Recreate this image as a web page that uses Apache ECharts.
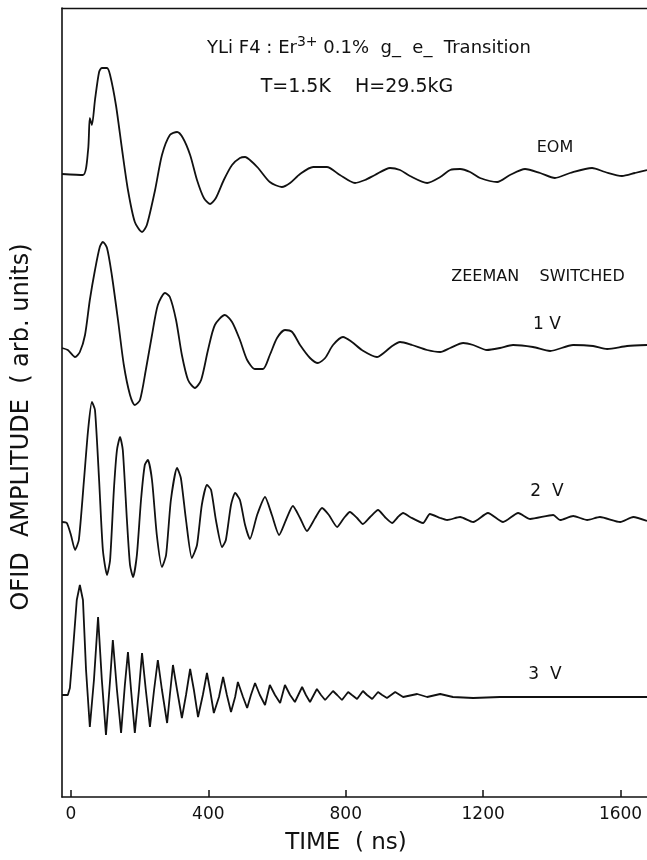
<!DOCTYPE html>
<html>
<head>
<meta charset="utf-8">
<script src="https://cdn.jsdelivr.net/npm/echarts@6/dist/echarts.min.js"></script>
<style>
  html, body { margin: 0; padding: 0; background: #fff; }
  #chart { width: 647px; height: 860px; }
</style>
</head>
<body>
<div id="chart"></div>
<script>
// time (ns) and amplitude (arb. units, relative to each trace's baseline)
const eomTime = [-26, 35, 50, 55, 61, 70, 82, 90, 105, 114, 131, 149, 166, 186, 207, 221, 245, 265, 288, 309, 326, 347, 367, 387, 405, 422, 445, 469, 492, 507, 521, 545, 579, 614, 638, 667, 705, 745, 783, 827, 856, 885, 929, 958, 987, 1037, 1075, 1104, 1133, 1162, 1191, 1241, 1278, 1322, 1366, 1409, 1453, 1517, 1555, 1604, 1642, 1677]
const eomAmp = [0, -1, 24, 56, 49, 74, 102, 106, 106, 99, 69, 24, -16, -48, -58, -51, -16, 19, 39, 42, 36, 19, -6, -24, -30, -24, -6, 9, 16, 17, 14, 6, -8, -13, -9, 0, 7, 7, -1, -9, -6, -1, 6, 4, -2, -9, -3, 4, 5, 2, -4, -8, -1, 5, 1, -4, 1, 6, 2, -2, 1, 4]

const v1Time = [-26, -9, 12, 26, 41, 55, 70, 84, 93, 105, 119, 137, 154, 172, 186, 201, 218, 236, 253, 274, 288, 306, 323, 341, 361, 379, 399, 419, 448, 469, 492, 513, 536, 559, 579, 600, 623, 644, 667, 696, 719, 740, 763, 792, 818, 847, 891, 914, 935, 958, 993, 1037, 1075, 1104, 1142, 1171, 1211, 1249, 1287, 1345, 1395, 1462, 1520, 1561, 1619, 1677]
const v1Amp = [0, -2, -9, -4, 13, 48, 78, 101, 106, 100, 73, 28, -17, -47, -57, -52, -22, 13, 43, 55, 51, 28, -7, -32, -40, -32, -2, 23, 33, 26, 8, -12, -21, -21, -7, 10, 18, 16, 3, -10, -15, -10, 3, 11, 6, -2, -9, -4, 2, 6, 3, -2, -4, 0, 5, 3, -2, 0, 3, 1, -3, 3, 2, -1, 2, 3]

const v2Time = [-26, -12, 0, 12, 23, 38, 50, 61, 70, 82, 93, 105, 114, 125, 134, 143, 151, 163, 172, 181, 192, 204, 215, 224, 236, 250, 265, 277, 291, 309, 320, 335, 352, 367, 381, 396, 408, 422, 440, 451, 466, 478, 492, 507, 521, 542, 565, 585, 606, 626, 646, 667, 687, 711, 731, 751, 775, 795, 812, 833, 850, 871, 894, 914, 935, 952, 967, 987, 1025, 1045, 1075, 1095, 1133, 1171, 1214, 1258, 1302, 1337, 1404, 1424, 1462, 1503, 1540, 1599, 1637, 1677]
const v2Amp = [0, -1, -13, -28, -18, 42, 92, 120, 112, 42, -28, -53, -38, 32, 72, 85, 72, 2, -43, -55, -33, 22, 57, 62, 42, -13, -45, -33, 22, 54, 44, 2, -36, -23, 17, 37, 32, 2, -25, -18, 17, 29, 22, -3, -17, 7, 25, 7, -13, 2, 16, 4, -9, 4, 14, 7, -5, 4, 10, 4, -2, 5, 12, 5, -1, 5, 9, 5, -1, 8, 4, 2, 5, 0, 9, 0, 9, 3, 7, 2, 6, 2, 5, 0, 5, 1]

const v3Time = [-26, -9, -3, 6, 17, 26, 35, 44, 55, 67, 79, 90, 102, 114, 122, 134, 146, 157, 166, 175, 186, 198, 207, 218, 230, 242, 253, 265, 280, 288, 297, 309, 323, 335, 347, 358, 370, 384, 396, 405, 416, 431, 443, 454, 466, 478, 486, 501, 513, 524, 536, 550, 565, 579, 594, 609, 623, 638, 652, 673, 684, 696, 716, 728, 740, 763, 775, 789, 807, 818, 833, 850, 862, 877, 894, 906, 920, 944, 967, 1008, 1037, 1075, 1112, 1171, 1249, 1307, 1462, 1540, 1677]
const v3Amp = [0, 0, 7, 45, 95, 110, 95, 25, -32, 15, 78, 15, -40, 15, 55, 5, -38, 10, 43, 5, -38, 5, 42, 5, -32, 5, 35, 5, -28, 0, 30, 5, -23, 0, 26, 5, -22, 0, 22, 5, -18, -2, 18, 0, -17, -2, 13, -2, -13, 0, 12, 0, -10, 10, 0, -8, 10, 0, -7, 8, 0, -7, 6, 0, -5, 4, 0, -5, 3, 0, -4, 4, 0, -4, 3, 0, -3, 3, -2, 1, -2, 1, -2, -3, -2, -2, -2, -2, -2]

const traceNames = ['EOM', '1 V', '2 V', '3 V']
const traceOffsets = [623, 449, 275, 102]
const tickValues = [0, 400, 800, 1200, 1600]

const traces = [[eomTime, eomAmp], [v1Time, v1Amp], [v2Time, v2Amp], [v3Time, v3Amp]]
const smoothing = [0.25, 0.25, 0.2, 0]
const font = 'DejaVu Sans'
const ink = '#111'

let chart = echarts.init(document.getElementById('chart'))

const series = traces.map((tr, i) => ({
  name: traceNames[i],
  type: 'line',
  showSymbol: false,
  smooth: smoothing[i],
  lineStyle: { color: ink, width: 1.8 },
  data: tr[0].map((t, k) => [t, traceOffsets[i] + tr[1][k]])
}))

const txt = (text, x, y, size, rot) => ({
  type: 'text', x, y, rotation: rot || 0,
  style: { text, fill: ink, font: size + 'px "DejaVu Sans"', align: 'center', verticalAlign: 'middle' }
})

chart.setOption({
  backgroundColor: '#fff',
  animation: false,
  grid: { left: 62, right: 0, top: 8, bottom: 63 },
  xAxis: [{
    type: 'value',
    min: -26,
    max: 1677,
    axisLine: { show: true, lineStyle: { color: ink, width: 1.6 } },
    axisTick: { show: true, inside: true, length: 7, customValues: tickValues, lineStyle: { color: ink, width: 1.5 } },
    axisLabel: { customValues: tickValues, formatter: v => String(v), color: ink, fontFamily: font, fontSize: 17, margin: 9 },
    splitLine: { show: false }
  }, {
    type: 'value',
    position: 'top',
    min: -26,
    max: 1677,
    axisLine: { show: true, onZero: false, lineStyle: { color: ink, width: 1.4 } },
    axisTick: { show: false },
    axisLabel: { show: false },
    splitLine: { show: false }
  }],
  yAxis: {
    type: 'value',
    min: 0,
    max: 789,
    axisLine: { show: true, onZero: false, lineStyle: { color: ink, width: 1.6 } },
    axisTick: { show: false },
    axisLabel: { show: false },
    splitLine: { show: false }
  },
  title: [{
    text: 'YLi F4 : Er{sup|3+} 0.1%  g_  e_  Transition',
    left: 364,
    top: 30,
    textAlign: 'center',
    textStyle: {
      color: ink, fontFamily: font, fontSize: 18, fontWeight: 'normal',
      rich: { sup: { fontSize: 14, fontFamily: font, color: ink, verticalAlign: 'top', padding: [0, 0, 12, 0] } }
    }
  }, {
    text: 'T=1.5K    H=29.5kG',
    left: 352,
    top: 73,
    textAlign: 'center',
    textStyle: { color: ink, fontFamily: font, fontSize: 19, fontWeight: 'normal' }
  }],
  graphic: [
    txt('OFID  AMPLITUDE  ( arb. units)', 22, 427, 24, Math.PI / 2),
    txt('TIME  ( ns)', 346, 843, 23),
    txt('EOM', 555, 148, 16),
    txt('ZEEMAN    SWITCHED', 538, 277, 16),
    txt('1 V', 547, 325, 17),
    txt('2  V', 547, 492, 17),
    txt('3  V', 545, 675, 17)
  ],
  series
})
</script>
</body>
</html>
